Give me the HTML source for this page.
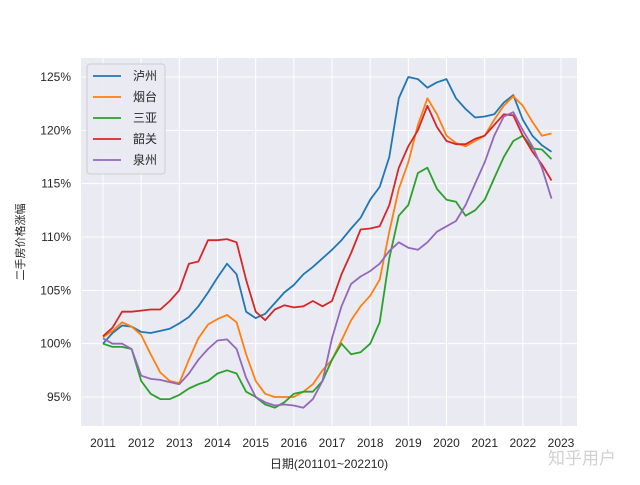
<!DOCTYPE html>
<html><head><meta charset="utf-8"><style>
body{margin:0;background:#fff;width:640px;height:480px;overflow:hidden}
svg text{font-family:"Liberation Sans","Noto Sans CJK SC",sans-serif;fill:#262626}
</style></head><body>
<svg id="chart" width="640" height="480" xmlns="http://www.w3.org/2000/svg">
<rect x="81" y="58" width="496" height="368" fill="#eaeaf2"/>
<g id="grid"></g><g id="ticks"></g><g id="lines"></g>
<g id="legend">
<rect x="87" y="64" width="78" height="110" rx="3" fill="#eaeaf2" stroke="#cccccc" opacity="0.9"/>
</g>
<text x="0" y="0" font-size="11" text-anchor="middle" transform="translate(24,242) rotate(-90)">二手房价格涨幅</text>
<text x="329" y="468" font-size="12" text-anchor="middle">日期(201101~202210)</text>
<text x="582" y="464" font-size="17" text-anchor="middle" style="fill:#d0d0d0">知乎用户</text>
</svg>
<script>
const years=[2011,2012,2013,2014,2015,2016,2017,2018,2019,2020,2021,2022,2023];
const yTicks=[95,100,105,110,115,120,125];
const names=["泸州","烟台","三亚","韶关","泉州"];
const colors=["#1f77b4","#ff7f0e","#2ca02c","#d62728","#9467bd"];
const luzhou=[100,101,101.7,101.6,101.1,101,101.2,101.4,101.9,102.5,103.5,104.8,106.2,107.5,106.5,103,102.4,102.8,103.8,104.8,105.5,106.5,107.2,108,108.8,109.7,110.8,111.8,113.5,114.7,117.5,123,125,124.8,124,124.5,124.8,123,122,121.2,121.3,121.5,122.6,123.3,121,119.5,118.6,118];
const yantai=[100.6,101.2,102,101.6,100.8,99,97.3,96.5,96.3,98.5,100.5,101.8,102.3,102.7,102,99,96.5,95.3,95,95,95,95.5,96.2,97.5,98.5,100.3,102.2,103.5,104.5,106,110.5,114.5,117,120.5,123,121.5,119.5,118.8,118.5,119,119.5,121,122.3,123.2,122.3,120.8,119.5,119.7];
const sanya=[100,99.7,99.7,99.5,96.5,95.3,94.8,94.8,95.2,95.8,96.2,96.5,97.2,97.5,97.2,95.5,95,94.3,94,94.5,95.3,95.5,95.5,96.5,98.5,100,99,99.2,100,102,108,112,113,116,116.5,114.5,113.5,113.3,112,112.5,113.5,115.5,117.5,119,119.5,118.3,118.2,117.3];
const shaoguan=[100.7,101.5,103,103,103.1,103.2,103.2,104,105,107.5,107.7,109.7,109.7,109.8,109.5,106,103,102.2,103.2,103.6,103.4,103.5,104,103.5,104,106.5,108.5,110.7,110.8,111,113,116.5,118.5,120,122.3,120.3,119,118.7,118.7,119.2,119.5,120.5,121.5,121.4,119.5,118,116.8,115.3];
const quanzhou=[100.5,100,100,99.5,97,96.7,96.6,96.4,96.2,97.2,98.5,99.5,100.3,100.4,99.5,96.8,95,94.5,94.2,94.3,94.2,94,94.8,96.5,100.5,103.5,105.6,106.3,106.8,107.5,108.7,109.5,109,108.8,109.5,110.5,111,111.5,113,115,117,119.5,121.3,121.7,120,118.5,116.5,113.6];
const series=[luzhou,yantai,sanya,shaoguan,quanzhou];
const NS="http://www.w3.org/2000/svg";
const X=t=>103+(t-2011)*(561-103)/12;
const Y=v=>397-(v-95)*(397-77)/30;
function mk(tag,attrs,parent){const e=document.createElementNS(NS,tag);for(const k in attrs)e.setAttribute(k,attrs[k]);document.getElementById(parent).appendChild(e);return e;}
years.forEach(y=>{
 const l=mk('line',{x1:X(y),x2:X(y),y1:58,y2:426,stroke:'#fff','stroke-width':1},'grid');
 
 
 const t=mk('text',{x:X(y),y:447,'font-size':12,'text-anchor':'middle'},'ticks');t.textContent=y;
 
 
});
yTicks.forEach(v=>{
 const l=mk('line',{x1:81,x2:577,y1:Y(v),y2:Y(v),stroke:'#fff','stroke-width':1},'grid');
 
 
 const t=mk('text',{x:71,y:Y(v)+4,'font-size':12,'text-anchor':'end'},'ticks');t.textContent=v+'%';
 
 
});
series.forEach((s,i)=>{
 const pts=s.map((v,j)=>X(2011+j*0.25).toFixed(1)+','+Y(v).toFixed(1)).join(' ');
 const p=mk('polyline',{points:pts,fill:'none',stroke:colors[i],'stroke-width':1.8,'stroke-linejoin':'round'},'lines');
 
 
 const ly=76+i*21;
 const ll=mk('line',{x1:93,x2:121,y1:ly,y2:ly,stroke:colors[i],'stroke-width':1.8},'legend');
 
 
 const lt=mk('text',{x:133,y:ly+4,'font-size':12},'legend');lt.textContent=names[i];
 
 
});
</script>
</body></html>
